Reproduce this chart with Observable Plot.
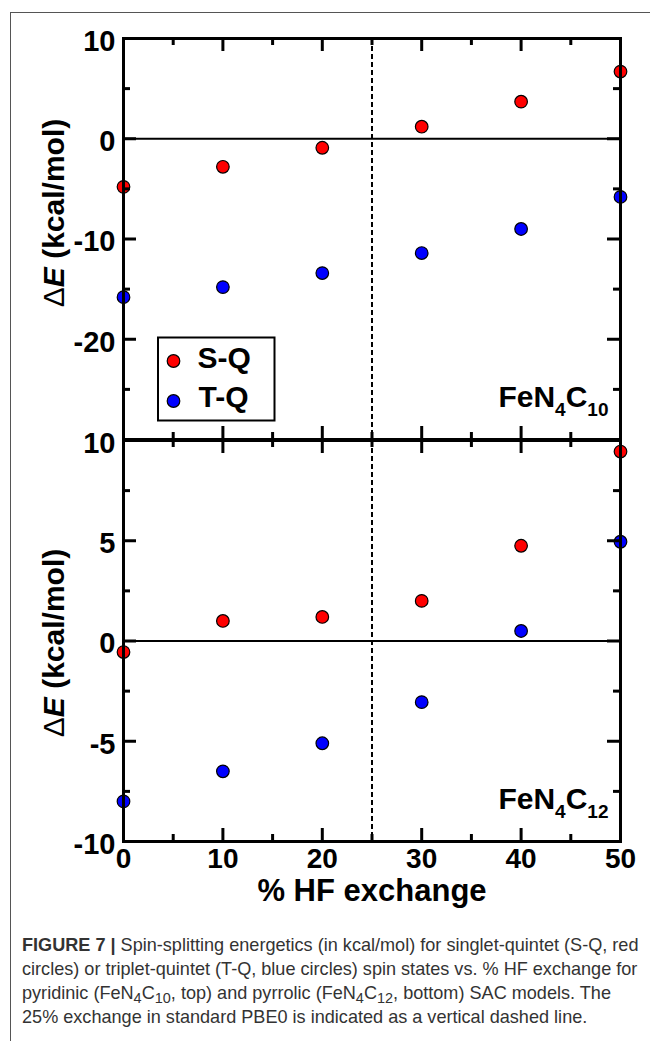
<!DOCTYPE html>
<html><head><meta charset="utf-8">
<script src="https://cdn.jsdelivr.net/npm/d3@7"></script>
<script src="https://cdn.jsdelivr.net/npm/@observablehq/plot@0.6"></script>
<style>
body{margin:0;background:#fff;width:650px;height:1041px;overflow:hidden;position:relative;font-family:"Liberation Sans",Arial,Helvetica,sans-serif;}
#border{position:absolute;left:10px;top:12px;width:700px;height:1100px;border-left:1px solid #555;border-top:1px solid #555;}
#top{position:absolute;left:0;top:0;}
#bottom{position:absolute;left:0;top:430px;}
#caption{position:absolute;left:22px;top:933px;font-size:15px;line-height:24px;color:#333;white-space:nowrap;}
#caption div{height:24px;}
#caption sub{font-size:0.8em;line-height:0;vertical-align:-0.25em;}
</style></head><body>
<div id="border"></div><div id="top"></div><div id="bottom"></div><div id="caption"></div>
<script>
// ---- data ----
const hf = [0, 10, 20, 30, 40, 50];
const topSQ = [-4.8, -2.8, -0.9, 1.2, 3.7, 6.7];
const topTQ = [-15.8, -14.8, -13.4, -11.4, -9.0, -5.8];
const botSQ = [-0.55, 1.0, 1.2, 2.0, 4.75, 9.45];
const botTQ = [-8.0, -6.5, -5.1, -3.05, 0.5, 4.95];
const xMajor = [0, 10, 20, 30, 40, 50];
const xMinor = [5, 15, 25, 35, 45];
const topYMajor = [-30, -20, -10, 0, 10];
const topYMinor = [-25, -15, -5, 5];
const topYLabels = [-20, -10, 0, 10];
const botYMajor = [-10, -5, 0, 5, 10];
const botYMinor = [-7.5, -2.5, 2.5, 7.5];
const botYLabels = [-10, -5, 0, 5, 10];
const series = ["S-Q", "T-Q"];
const seriesColors = ["#ff0000", "#0000ff"];
const pbe0 = [25];
const yTitle = "ΔE (kcal/mol)";
const xTitle = "% HF exchange";
const topLabel = "FeN4C10";
const botLabel = "FeN4C12";
const captionLines = [
  "<b>FIGURE 7 |</b> Spin-splitting energetics (in kcal/mol) for singlet-quintet (S-Q, red",
  "circles) or triplet-quintet (T-Q, blue circles) spin states vs. % HF exchange for",
  "pyridinic (FeN<sub>4</sub>C<sub>10</sub>, top) and pyrrolic (FeN<sub>4</sub>C<sub>12</sub>, bottom) SAC models. The",
  "25% exchange in standard PBE0 is indicated as a vertical dashed line."
];

// ---- layout ----
const W = 650, mL = 123, mR = 30, plotH = 401;
const plotW = W - mL - mR;
const MAJ = 13, MIN = 7;
const FONT = "Liberation Sans, Arial, Helvetica, sans-serif";

function panel(o) {
  const pts = (vals, s) => hf.map((x, i) => ({x, y: vals[i], s}));
  const data = [...pts(o.sq, series[0]), ...pts(o.tq, series[1])];
  const marks = [
    Plot.ruleY([0], {stroke: "black", strokeWidth: 1.8}),
    Plot.ruleX(pbe0, {stroke: "black", strokeWidth: 2, strokeDasharray: "5,3"}),
    Plot.dot(data, {x: "x", y: "y", r: 6.3, fill: d => seriesColors[series.indexOf(d.s)], stroke: "black", strokeWidth: 1.2}),
    // inward ticks on all four sides
    Plot.tickY(o.yMajor, {y: d => d, insetRight: plotW - MAJ, strokeWidth: 3}),
    Plot.tickY(o.yMinor, {y: d => d, insetRight: plotW - MIN, strokeWidth: 3}),
    Plot.tickY(o.yMajor, {y: d => d, insetLeft: plotW - MAJ, strokeWidth: 3}),
    Plot.tickY(o.yMinor, {y: d => d, insetLeft: plotW - MIN, strokeWidth: 3}),
    Plot.tickX(xMajor, {x: d => d, insetBottom: plotH - MAJ, strokeWidth: 3}),
    Plot.tickX(xMinor, {x: d => d, insetBottom: plotH - MIN, strokeWidth: 3}),
    Plot.tickX(xMajor, {x: d => d, insetTop: plotH - MAJ, strokeWidth: 3}),
    Plot.tickX(xMinor, {x: d => d, insetTop: plotH - MIN, strokeWidth: 3}),
    Plot.frame({stroke: "black", strokeWidth: 3}),
    Plot.axisY(o.yLabels, {anchor: "left", tickSize: 0, tickPadding: 8, dy: 3, fontSize: 29, fontWeight: "bold", tickFormat: d => String(d), label: null, fill: "black"}),
    Plot.text([yTitle], {text: d => d, frameAnchor: "left", textAnchor: "middle", lineAnchor: "middle", rotate: -90, dx: -69, dy: o.titleDy, fontSize: 30, fontWeight: "bold", fill: "black"}),
    Plot.text([o.label], {text: d => d, frameAnchor: "bottom-right", textAnchor: "end", lineAnchor: "middle", dx: -12, dy: -42.6, fontSize: 30, fontWeight: "bold", fill: "black"})
  ];
  if (o.xAxis) {
    marks.push(
      Plot.axisX(xMajor, {anchor: "bottom", tickSize: 0, tickPadding: 7, fontSize: 28, fontWeight: "bold", tickFormat: d => String(d), label: null, fill: "black"}),
      Plot.text([xTitle], {text: d => d, frameAnchor: "bottom", textAnchor: "middle", lineAnchor: "middle", dy: 50, fontSize: 31, fontWeight: "bold", fill: "black"})
    );
  }
  if (o.legend) {
    marks.push(
      Plot.frame({insetLeft: 34.5, insetRight: 346, insetTop: 299, insetBottom: 19, stroke: "black", strokeWidth: 2}),
      Plot.dot([series[0]], {frameAnchor: "bottom-left", dx: 50, dy: -78.5, r: 6.3, fill: seriesColors[0], stroke: "black", strokeWidth: 1.2}),
      Plot.dot([series[1]], {frameAnchor: "bottom-left", dx: 50, dy: -38.5, r: 6.3, fill: seriesColors[1], stroke: "black", strokeWidth: 1.2}),
      Plot.text([series[0]], {text: d => d, frameAnchor: "bottom-left", textAnchor: "start", lineAnchor: "middle", dx: 74, dy: -81, fontSize: 30, fontWeight: "bold", fill: "black"}),
      Plot.text([series[1]], {text: d => d, frameAnchor: "bottom-left", textAnchor: "start", lineAnchor: "middle", dx: 75, dy: -42, fontSize: 30, fontWeight: "bold", fill: "black"})
    );
  }
  const svg = Plot.plot({
    width: W, height: o.height,
    marginLeft: mL, marginRight: mR, marginTop: o.marginTop, marginBottom: o.marginBottom,
    x: {domain: [0, 50], axis: o.xAxis ? undefined : null},
    y: {domain: o.yDomain},
    style: {background: "transparent", overflow: "visible", fontFamily: FONT, color: "black"},
    marks
  });
  // subscripts and italic symbol as real text
  svg.querySelectorAll("text").forEach(t => {
    const s = t.textContent;
    if (s === topLabel || s === botLabel) {
      const n = s.slice(-2);
      t.innerHTML = `FeN<tspan font-size="19" dy="10">4</tspan><tspan dy="-10">C</tspan><tspan font-size="19" dy="10">${n}</tspan>`;
    } else if (s === yTitle) {
      t.innerHTML = `<tspan font-weight="normal">Δ</tspan><tspan font-style="italic">E</tspan> (kcal/mol)`;
      t.setAttribute("text-anchor", "middle");
    }
  });
  return svg;
}

document.getElementById("top").appendChild(panel({
  height: 440, marginTop: 38, marginBottom: 1, yDomain: [-30, 10],
  sq: topSQ, tq: topTQ, yMajor: topYMajor, yMinor: topYMinor, yLabels: topYLabels,
  label: topLabel, titleDy: -26, xAxis: false, legend: true
}));
document.getElementById("bottom").appendChild(panel({
  height: 470, marginTop: 10, marginBottom: 59, yDomain: [-10, 10],
  sq: botSQ, tq: botTQ, yMajor: botYMajor, yMinor: botYMinor, yLabels: botYLabels,
  label: botLabel, titleDy: 2, xAxis: true, legend: false
}));

// caption
const cap = document.getElementById("caption");
captionLines.forEach(l => { const d = document.createElement("div"); d.innerHTML = l; cap.appendChild(d); });
const first = cap.firstChild;
const span = document.createElement("span"); span.innerHTML = first.innerHTML; first.innerHTML = ""; first.appendChild(span);
const w = span.getBoundingClientRect().width;
cap.style.fontSize = (15 * 617 / w) + "px";
</script>
</body></html>
